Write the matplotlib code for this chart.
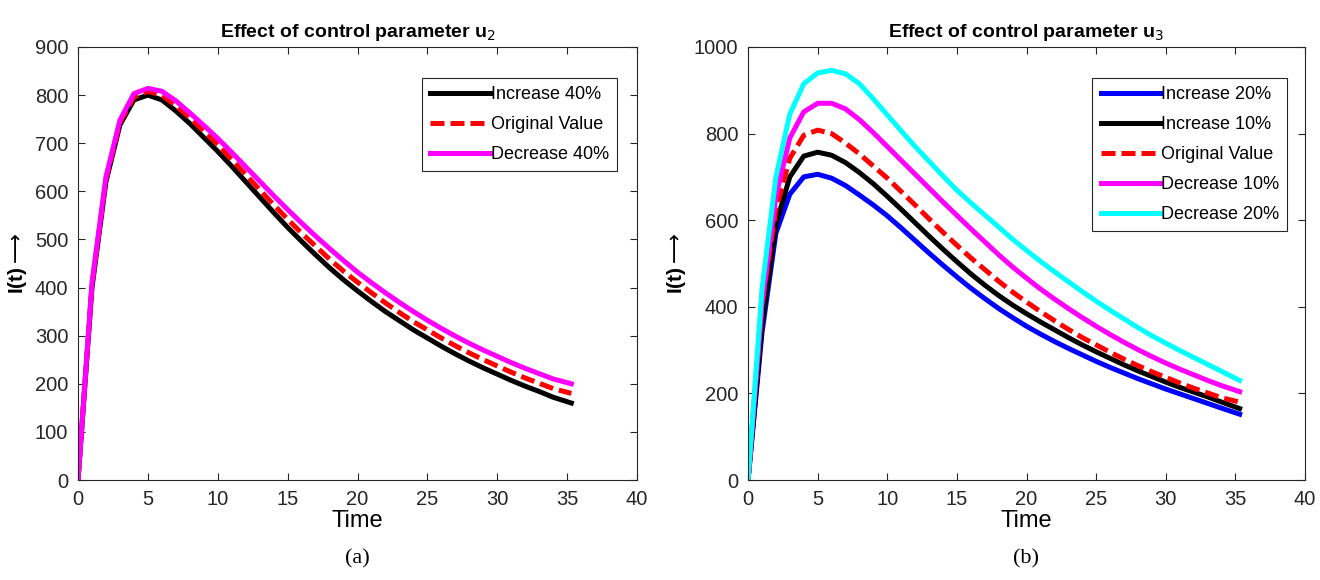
import numpy as np
import matplotlib
matplotlib.use("Agg")
import matplotlib.pyplot as plt

plt.rcParams['font.family'] = ['Liberation Sans', 'DejaVu Sans']
plt.rcParams['mathtext.fontset'] = 'dejavusans'

# time grid (days)
time = list(range(35)) + [35.3]

# panel (a): control parameter u2
u2_inc40 = [0, 400, 620, 738, 790, 800, 790, 767, 741, 712, 683, 652, 620, 588, 556, 525,
            496, 468, 441, 416, 393, 371, 350, 331, 312, 295, 278, 262, 247, 233,
            220, 207, 195, 184, 172, 160]
u2_orig = [0, 405, 625, 743, 796, 808, 800, 778, 753, 725, 697, 666, 635, 603, 572, 542,
           513, 486, 459, 434, 411, 389, 368, 348, 329, 312, 295, 279, 264, 250,
           237, 224, 212, 201, 190, 180]
u2_dec40 = [0, 410, 630, 748, 803, 814, 808, 788, 763, 737, 710, 681, 651, 621, 591, 562,
            534, 507, 481, 456, 432, 410, 389, 369, 350, 332, 315, 299, 284, 270,
            257, 244, 232, 221, 210, 200]

# panel (b): control parameter u3
u3_inc20 = [0, 340, 570, 660, 700, 706, 697, 680, 658, 635, 610, 582, 553, 524, 496, 469,
            443, 419, 396, 375, 355, 337, 320, 304, 289, 274, 260, 247, 234, 222,
            210, 199, 188, 177, 166, 152]
u3_inc10 = [0, 355, 590, 700, 748, 757, 750, 733, 710, 684, 655, 625, 594, 563, 533, 504,
            476, 450, 426, 404, 384, 365, 347, 329, 312, 296, 281, 266, 252, 239,
            226, 214, 203, 192, 180, 165]
u3_orig = u2_orig
u3_dec10 = [0, 405, 655, 790, 850, 870, 870, 857, 832, 802, 770, 738, 706, 674, 642, 611,
            580, 550, 520, 492, 466, 441, 418, 396, 375, 355, 336, 318, 301, 285,
            270, 256, 243, 230, 218, 204]
u3_dec20 = [0, 440, 700, 845, 915, 940, 946, 938, 915, 880, 843, 806, 770, 736, 702, 669,
            640, 612, 584, 556, 530, 505, 481, 458, 435, 413, 392, 372, 352, 333,
            316, 299, 283, 267, 251, 230]

fig = plt.figure(figsize=(13.2, 5.8), dpi=100)
ax1 = fig.add_axes([0.0591, 0.1724, 0.4235, 0.7466])
ax2 = fig.add_axes([0.5667, 0.1724, 0.4220, 0.7466])

lw = 3.6
dash = (0, (2.8, 1.2))

ax1.plot(time, u2_inc40, color='black', lw=lw, label='Increase 40%')
ax1.plot(time, u2_orig, color='red', lw=lw, ls=dash, label='Original Value')
ax1.plot(time, u2_dec40, color='magenta', lw=lw, label='Decrease 40%')

ax2.plot(time, u3_inc20, color='blue', lw=lw, label='Increase 20%')
ax2.plot(time, u3_inc10, color='black', lw=lw, label='Increase 10%')
ax2.plot(time, u3_orig, color='red', lw=lw, ls=dash, label='Original Value')
ax2.plot(time, u3_dec10, color='magenta', lw=lw, label='Decrease 10%')
ax2.plot(time, u3_dec20, color='cyan', lw=lw, label='Decrease 20%')

ax1.set_ylim(0, 900)
ax1.set_yticks(np.arange(0, 901, 100))
ax2.set_ylim(0, 1000)
ax2.set_yticks(np.arange(0, 1001, 200))

for ax, sub, anchor in ((ax1, '2', (0.964, 0.928)), (ax2, '3', (0.968, 0.928))):
    ax.set_xlim(0, 40)
    ax.set_xticks(np.arange(0, 41, 5))
    ax.tick_params(direction='in', top=True, right=True, length=5, width=0.8,
                   labelsize=14.5, colors='#262626', pad=7)
    for s in ax.spines.values():
        s.set_color('#262626')
        s.set_linewidth(0.8)
    ax.set_title('Effect of control parameter u$_{%s}$' % sub, fontsize=14,
                 fontweight='bold', pad=7)
    ax.set_xlabel('Time', fontsize=17, labelpad=1)
    ax.set_ylabel('I(t)$\\longrightarrow$', fontsize=15, fontweight='bold', labelpad=4)
    leg = ax.legend(loc='upper right', bbox_to_anchor=anchor, borderaxespad=0,
                    fontsize=13, handlelength=3.3, handletextpad=0.05,
                    fancybox=False, framealpha=1, borderpad=0.45, labelspacing=0.72)
    leg.get_frame().set_edgecolor('#262626')
    leg.get_frame().set_linewidth(0.8)

fig.text(0.2708, 0.028, '(a)', family='Liberation Serif', fontsize=16, ha='center')
fig.text(0.7776, 0.028, '(b)', family='Liberation Serif', fontsize=16, ha='center')

fig.savefig('out.png', dpi=100)
